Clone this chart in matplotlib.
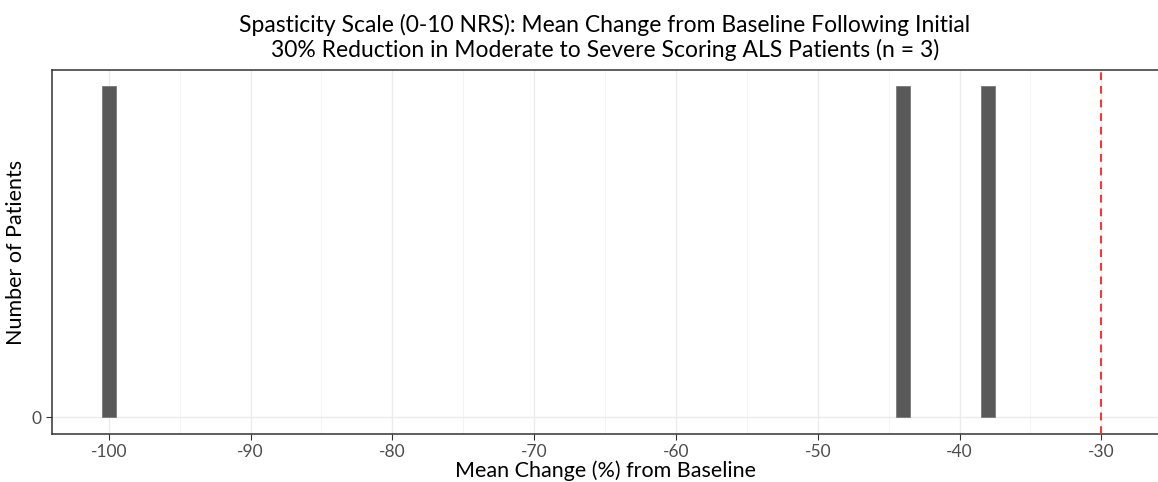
import numpy as np
import matplotlib
matplotlib.use('Agg')
import matplotlib.pyplot as plt
from matplotlib.ticker import MultipleLocator

plt.rcParams['font.family'] = ['Lato', 'DejaVu Sans']

'''mean change (%) from baseline for each patient'''
changes = [-100, -44, -38]
threshold = -30
xticks = [-100, -90, -80, -70, -60, -50, -40, -30]

fig = plt.figure(figsize=(11.58, 4.82), dpi=100)
ax = fig.add_axes([0.045, 0.0996, 0.955, 0.7554])

'''histogram with 1% wide bins'''
bins = np.arange(-100.5, -29.5, 1)
counts, edges, patches = ax.hist(changes, bins=bins, color='#595959', linewidth=0, zorder=3)
for c, p in zip(counts, patches):
    if c > 0:
        p.set_edgecolor('#7a7a7a')
        p.set_linewidth(0.6)
ax.axvline(threshold, color='#ff3030', linestyle=(0, (4, 3)), linewidth=1.4, zorder=4)

ax.set_xlim(-104, -26)
ax.set_ylim(-0.05, 1.05)
ax.set_xticks(xticks)
ax.set_xticklabels([str(t) for t in xticks])
ax.xaxis.set_minor_locator(MultipleLocator(5))
ax.set_yticks([0])

'''grid like ggplot theme_bw'''
ax.grid(True, which='major', axis='both', color='#ebebeb', linewidth=1.0, zorder=0)
ax.grid(True, which='minor', axis='x', color='#f2f2f2', linewidth=0.6, zorder=0)
ax.set_axisbelow(True)

for s in ax.spines.values():
    s.set_color('#333333')
    s.set_linewidth(1.1)
ax.spines['right'].set_visible(False)

ax.tick_params(axis='both', which='major', labelsize=12.5, labelcolor='#4d4d4d', color='#333333', length=4)
ax.tick_params(axis='both', which='minor', length=0)

ax.set_xlabel('Mean Change (%) from Baseline', fontsize=15.5, labelpad=0)
ax.set_ylabel('Number of Patients', fontsize=15.5, labelpad=4)
ax.set_title('Spasticity Scale (0-10 NRS): Mean Change from Baseline Following Initial\n'
             '30% Reduction in Moderate to Severe Scoring ALS Patients (n = 3)',
             fontsize=16.5, pad=9, linespacing=1.2)

plt.savefig('out.png', dpi=100)
